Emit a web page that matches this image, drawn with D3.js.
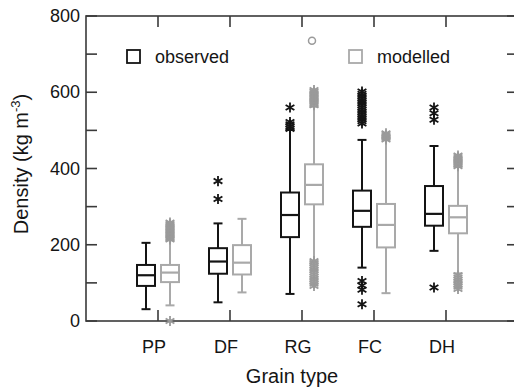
<!DOCTYPE html>
<html>
<head>
<meta charset="utf-8">
<script src="https://cdn.jsdelivr.net/npm/d3@7"></script>
<style>
	body { margin: 0; background: #fff; }
	text { font-family: "Liberation Sans", Arial, sans-serif; fill: #151515; }
</style>
</head>
<body>
<div id="chart"></div>
<script>
// grain types on the x axis
var categories = ["PP", "DF", "RG", "FC", "DH"];
var yTicks = [0, 200, 400, 600, 800];
var yMinorTicks = [100, 300, 500, 700];

// box stats: [whisker low, q1, median, q3, whisker high]
var observedStats = [
	[31, 92, 120, 147, 205],
	[49, 124, 156, 191, 256],
	[71, 220, 278, 337, 501],
	[140, 247, 289, 342, 475],
	[184, 250, 281, 354, 459]
];
var modelledStats = [
	[41, 102, 127, 147, 212],
	[75, 122, 153, 199, 268],
	[156, 306, 357, 411, 562],
	[73, 193, 252, 307, 478],
	[125, 230, 272, 302, 405]
];

// outliers (asterisks)
var observedOutliers = [
	[],
	[367, 320],
	[560, 522, 516, 510, 504],
	[602, 596, 590, 584, 578, 572, 566, 560, 554, 548, 542, 536, 530, 524, 518, 105, 93, 82, 44],
	[560, 545, 528, 88]
];
var modelledOutliers = [
	[214, 218, 222, 226, 230, 234, 238, 242, 246, 250, 254, 258, 0],
	[],
	[566, 570, 574, 578, 582, 586, 590, 594, 598, 602, 606, 92, 98, 104, 110, 116, 122, 128, 134, 140, 146, 152, 157],
	[476, 480, 484, 488, 492],
	[406, 410, 414, 418, 422, 426, 430, 434, 84, 90, 96, 102, 108, 114, 120]
];
// extreme value (circle)
var modelledExtremes = [[], [], [735], [], []];

var width = 514, height = 390;
var plotLeft = 86, plotTop = 16, plotRight = 518, plotBottom = 321;

var svg = d3.select("#chart")
	.append("svg")
		.attr("width", width)
		.attr("height", height);

var x = d3.scaleLinear().domain([0, categories.length + 1]).range([plotLeft, plotRight]);
var y = d3.scaleLinear().domain([0, 800]).range([plotBottom, plotTop]);

var axisColor = "#3a3a3a";
var obsColor = "#141414";
var modColor = "#a9a9a9";
var modOutColor = "#9a9a9a";
var offset = 12, boxW = 18, capW = 9;

// frame
svg.append("rect")
	.attr("x", plotLeft).attr("y", plotTop)
	.attr("width", plotRight - plotLeft).attr("height", plotBottom - plotTop)
	.attr("fill", "none")
	.attr("stroke", axisColor)
	.attr("stroke-width", 1.6);

// y ticks, left and right, pointing inward
var allY = yTicks.concat(yMinorTicks);
svg.append("g").selectAll("line").data(allY).enter().append("line")
	.attr("x1", plotLeft).attr("x2", plotLeft + 11)
	.attr("y1", d => y(d)).attr("y2", d => y(d))
	.attr("stroke", axisColor).attr("stroke-width", 1.6);
svg.append("g").selectAll("line").data(allY).enter().append("line")
	.attr("x1", plotRight - 11).attr("x2", plotRight)
	.attr("y1", d => y(d)).attr("y2", d => y(d))
	.attr("stroke", axisColor).attr("stroke-width", 1.6);

svg.append("g").selectAll("text").data(yTicks).enter().append("text")
	.attr("x", plotLeft - 6)
	.attr("y", d => y(d) + 6)
	.attr("text-anchor", "end")
	.attr("font-size", 18)
	.text(d => d);

// x ticks, bottom and top
var idx = d3.range(categories.length);
svg.append("g").selectAll("line").data(idx).enter().append("line")
	.attr("x1", d => x(d + 1)).attr("x2", d => x(d + 1))
	.attr("y1", plotBottom).attr("y2", plotBottom - 11)
	.attr("stroke", axisColor).attr("stroke-width", 1.6);
svg.append("g").selectAll("line").data(idx).enter().append("line")
	.attr("x1", d => x(d + 1)).attr("x2", d => x(d + 1))
	.attr("y1", plotTop).attr("y2", plotTop + 11)
	.attr("stroke", axisColor).attr("stroke-width", 1.6);

svg.append("g").selectAll("text").data(categories).enter().append("text")
	.attr("x", (d, i) => x(i + 1) - 4)
	.attr("y", 353)
	.attr("text-anchor", "middle")
	.attr("font-size", 18)
	.text(d => d);

// axis titles
svg.append("text")
	.attr("x", 292).attr("y", 383)
	.attr("text-anchor", "middle")
	.attr("font-size", 20)
	.text("Grain type");

var ylab = svg.append("text")
	.attr("transform", "translate(28,164) rotate(-90)")
	.attr("text-anchor", "middle")
	.attr("font-size", 20);
ylab.append("tspan").text("Density (kg m");
ylab.append("tspan").attr("font-size", 13).attr("dy", -8).text("-3");
ylab.append("tspan").attr("dy", 8).text(")");

var asterisk = d3.symbol().type(d3.symbolAsterisk).size(72);

function drawBoxes(stats, outliers, dx, color, outColor) {
	var g = svg.append("g");
	stats.forEach((s, i) => {
		var cx = x(i + 1) + dx;
		var grp = g.append("g");
		// whiskers
		grp.append("line")
			.attr("x1", cx).attr("x2", cx)
			.attr("y1", y(s[0])).attr("y2", y(s[1]))
			.attr("stroke", color).attr("stroke-width", 2);
		grp.append("line")
			.attr("x1", cx).attr("x2", cx)
			.attr("y1", y(s[3])).attr("y2", y(s[4]))
			.attr("stroke", color).attr("stroke-width", 2);
		grp.selectAll("line.cap").data([s[0], s[4]]).enter().append("line")
			.attr("class", "cap")
			.attr("x1", cx - capW / 2).attr("x2", cx + capW / 2)
			.attr("y1", d => y(d)).attr("y2", d => y(d))
			.attr("stroke", color).attr("stroke-width", 2);
		// box
		grp.append("rect")
			.attr("x", cx - boxW / 2).attr("y", y(s[3]))
			.attr("width", boxW).attr("height", y(s[1]) - y(s[3]))
			.attr("fill", "#fff")
			.attr("stroke", color).attr("stroke-width", 2);
		grp.append("line")
			.attr("x1", cx - boxW / 2).attr("x2", cx + boxW / 2)
			.attr("y1", y(s[2])).attr("y2", y(s[2]))
			.attr("stroke", color).attr("stroke-width", 2.2);
		// outliers
		grp.selectAll("path").data(outliers[i]).enter().append("path")
			.attr("d", asterisk)
			.attr("transform", d => "translate(" + cx + "," + y(d) + ")")
			.attr("fill", "none")
			.attr("stroke", outColor)
			.attr("stroke-width", 1.8);
	});
}

drawBoxes(observedStats, observedOutliers, -offset, obsColor, obsColor);
drawBoxes(modelledStats, modelledOutliers, offset, modColor, modOutColor);

svg.append("g").selectAll("circle")
	.data(modelledExtremes.flatMap((arr, i) => arr.map(v => ({i: i, v: v}))))
	.enter().append("circle")
		.attr("cx", d => x(d.i + 1) + offset - 2)
		.attr("cy", d => y(d.v))
		.attr("r", 3.5)
		.attr("fill", "none")
		.attr("stroke", modOutColor)
		.attr("stroke-width", 1.5);

// legend
var legend = [
	{label: "observed", color: obsColor, x: 127},
	{label: "modelled", color: modColor, x: 349}
];
var lg = svg.append("g").selectAll("g").data(legend).enter().append("g");
lg.append("rect")
	.attr("x", d => d.x).attr("y", 50)
	.attr("width", 13).attr("height", 13)
	.attr("fill", "none")
	.attr("stroke", d => d.color)
	.attr("stroke-width", 1.8);
lg.append("text")
	.attr("x", d => d.x + 28)
	.attr("y", 63)
	.attr("font-size", 18)
	.text(d => d.label);
</script>
</body>
</html>
